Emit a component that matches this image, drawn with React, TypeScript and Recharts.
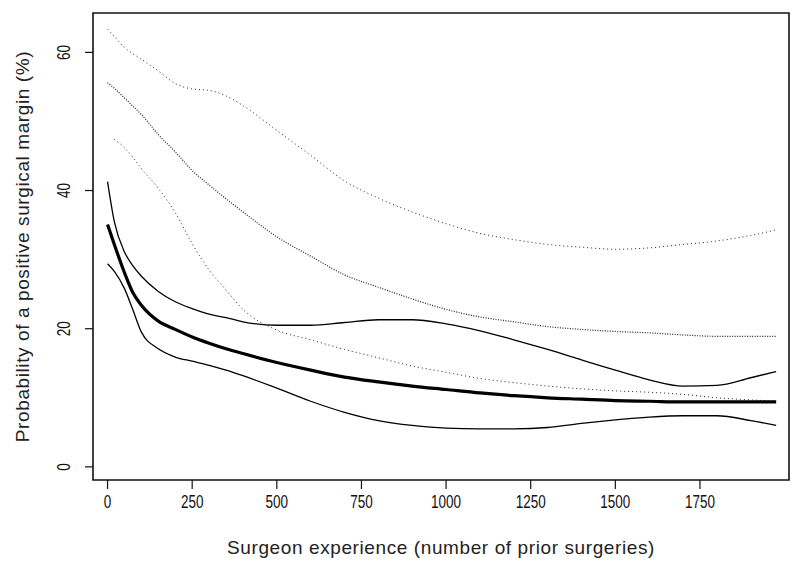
import React from 'react'
import { LineChart, Line, XAxis, YAxis, ReferenceArea } from 'recharts'

// surgeon experience grid (number of prior surgeries)
const experience = [0, 20, 50, 75, 100, 150, 200, 250, 300, 350, 400, 500, 600, 700, 800, 900, 1000, 1100, 1200, 1300, 1400, 1500, 1600, 1700, 1800, 1900, 1975]

// solid curves: estimate and 95% bounds
const estimate = [35.1, 32.2, 28.1, 25.2, 23.4, 21.1, 19.9, 18.8, 17.9, 17.1, 16.4, 15.1, 14.0, 13.0, 12.3, 11.7, 11.2, 10.7, 10.3, 10.0, 9.8, 9.6, 9.5, 9.4, 9.4, 9.4, 9.4]
const lowerSolid = [29.4, 28.3, 25.8, 22.7, 19.5, 17.1, 15.9, 15.3, 14.7, 14.0, 13.2, 11.4, 9.5, 7.9, 6.7, 6.0, 5.6, 5.5, 5.5, 5.7, 6.3, 6.8, 7.2, 7.4, 7.4, 6.7, 6.0]
const upperSolid = [41.3, 35.5, 31.1, 29.1, 27.6, 25.4, 23.9, 22.9, 22.1, 21.6, 21.0, 20.5, 20.5, 20.9, 21.3, 21.3, 20.7, 19.7, 18.4, 17.0, 15.5, 14.0, 12.6, 11.7, 11.8, 12.9, 13.8]

// dotted curves
const upperDotted = [63.4, 62.3, 60.7, 59.8, 59.0, 57.3, 55.5, 54.7, 54.5, 53.7, 52.3, 48.7, 45.1, 41.4, 38.9, 36.9, 35.2, 33.8, 32.9, 32.2, 31.8, 31.5, 31.7, 32.2, 32.7, 33.5, 34.3]
const middleDotted = [55.6, 54.8, 53.4, 52.2, 51.0, 48.1, 45.6, 42.9, 40.8, 38.8, 36.9, 33.3, 30.5, 27.8, 26.0, 24.3, 22.8, 21.7, 21.0, 20.3, 19.9, 19.6, 19.4, 19.1, 18.9, 18.9, 18.9]
const lowerDotted = [null, 47.4, 46.2, 44.8, 43.2, 40.3, 36.8, 32.3, 28.5, 25.6, 22.8, 19.8, 18.4, 17.0, 15.8, 14.6, 13.7, 12.8, 12.2, 11.7, 11.3, 11.0, 10.8, 10.5, 10.0, 9.7, 9.5]

const xTicks = [0, 250, 500, 750, 1000, 1250, 1500, 1750]
const yTicks = [0, 20, 40, 60]

const X_DOMAIN: [number, number] = [-43, 2013]
const Y_DOMAIN: [number, number] = [-1.9, 65.7]

const data = experience.map((x, i) => ({
  x,
  estimate: estimate[i],
  lowerSolid: lowerSolid[i],
  upperSolid: upperSolid[i],
  upperDotted: upperDotted[i],
  middleDotted: middleDotted[i],
  lowerDotted: lowerDotted[i],
}))

const tickFont = "'Liberation Sans', Arial, sans-serif"
const labelFont = "'Liberation Sans', Arial, sans-serif"

// narrow, tall tick labels like the original
const XTick = (props: any) => {
  const { x, y, payload } = props
  return (
    <text
      transform={`translate(${x}, ${y + 8}) scale(0.75, 1)`}
      textAnchor="middle"
      dy="0.35em"
      fontSize={18}
      fontFamily={tickFont}
      fill="#111"
    >
      {payload.value}
    </text>
  )
}

const YTick = (props: any) => {
  const { y, payload } = props
  return (
    <text
      transform={`translate(64, ${y}) rotate(-90) scale(0.75, 1)`}
      textAnchor="middle"
      dy="0.35em"
      fontSize={18}
      fontFamily={tickFont}
      fill="#111"
    >
      {payload.value}
    </text>
  )
}

export default function App() {
  return (
    <div style={{ position: 'absolute', left: 0, top: 0, background: '#fff' }}>
      <LineChart
        width={800}
        height={565}
        data={data}
        margin={{ top: 13, right: 11, bottom: 5, left: 0 }}
      >
        <XAxis
          type="number"
          dataKey="x"
          domain={X_DOMAIN}
          ticks={xTicks}
          allowDataOverflow
          axisLine={false}
          tickSize={9}
          tickLine={{ stroke: '#111', strokeWidth: 1.2 }}
          tickMargin={5}
          height={80}
          tick={<XTick />}
          label={{
            value: 'Surgeon experience (number of prior surgeries)',
            position: 'insideBottom',
            offset: 6,
            style: { fontSize: 19, letterSpacing: 0.6, fontFamily: labelFont, fill: '#222' },
          }}
        />
        <YAxis
          type="number"
          domain={Y_DOMAIN}
          ticks={yTicks}
          allowDataOverflow
          width={93}
          axisLine={false}
          tickSize={8}
          tickLine={{ stroke: '#111', strokeWidth: 1.2 }}
          tick={<YTick />}
          label={{
            value: 'Probability of a positive surgical margin (%)',
            angle: -90,
            position: 'insideLeft',
            offset: 22,
            style: { fontSize: 19, letterSpacing: 0.6, fontFamily: labelFont, fill: '#222', textAnchor: 'middle' },
          }}
        />
        <ReferenceArea
          x1={X_DOMAIN[0]}
          x2={X_DOMAIN[1]}
          y1={Y_DOMAIN[0]}
          y2={Y_DOMAIN[1]}
          fill="none"
          stroke="#111"
          strokeWidth={1.6}
          ifOverflow="visible"
        />
        <Line type="monotone" dataKey="upperDotted" stroke="#222" strokeWidth={1} strokeDasharray="1 3" dot={false} isAnimationActive={false} />
        <Line type="monotone" dataKey="middleDotted" stroke="#222" strokeWidth={1.2} strokeDasharray="1 1.5" dot={false} isAnimationActive={false} />
        <Line type="monotone" dataKey="lowerDotted" stroke="#222" strokeWidth={1} strokeDasharray="1 3" dot={false} isAnimationActive={false} />
        <Line type="monotone" dataKey="upperSolid" stroke="#000" strokeWidth={1.3} dot={false} isAnimationActive={false} />
        <Line type="monotone" dataKey="lowerSolid" stroke="#000" strokeWidth={1.3} dot={false} isAnimationActive={false} />
        <Line type="monotone" dataKey="estimate" stroke="#000" strokeWidth={3.2} dot={false} isAnimationActive={false} />
      </LineChart>
    </div>
  )
}
